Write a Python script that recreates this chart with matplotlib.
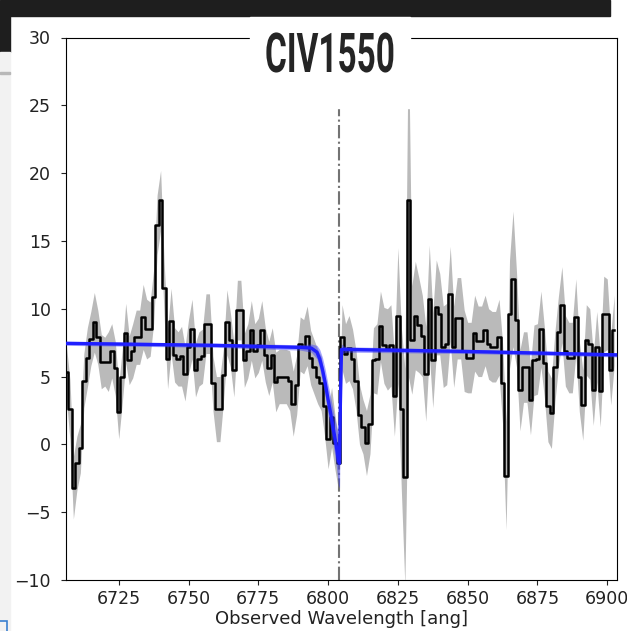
import matplotlib
matplotlib.use("Agg")
import matplotlib.pyplot as plt
from matplotlib.patches import Rectangle
from matplotlib.patheffects import AbstractPathEffect
from matplotlib.transforms import Affine2D

# spectrum: MUSE-like sampling, 1.25 ang per pixel
wave_start = 6706.25
wave_step = 1.25

flux = [
    5.3, 2.6, -3.2, -1.4, -0.3, 4.7, 6.4, 7.8, 9.0, 7.9,
    6.1, 6.1, 6.1, 6.9, 5.6, 2.4, 5.0, 8.2, 6.2, 6.9,
    7.9, 7.9, 9.4, 8.5, 8.5, 10.9, 16.2, 18.0, 11.5, 6.3,
    9.1, 6.6, 6.3, 6.5, 5.2, 7.2, 8.5, 5.5, 6.3, 6.5,
    8.9, 8.9, 4.5, 2.6, 2.6, 5.1, 9.0, 7.7, 5.5, 9.9,
    9.9, 6.2, 6.9, 8.4, 6.9, 7.3, 8.4, 6.6, 5.6, 6.6,
    4.6, 5.0, 5.0, 5.0, 4.7, 3.0, 4.4, 7.4, 7.2, 8.0,
    6.4, 5.7, 5.0, 4.5, 2.8, 0.4, 2.0, 0.1, -1.4, 7.9,
    6.7, 7.1, 6.3, 4.7, 2.2, 1.3, 0.1, 1.5, 6.2, 6.3,
    8.7, 7.3, 7.0, 7.3, 3.6, 9.5, 2.6, -2.4, 18.0, 7.7,
    9.5, 8.8, 8.0, 5.2, 10.7, 6.2, 10.1, 9.6, 7.2, 7.4,
    11.1, 7.2, 9.3, 9.3, 6.9, 6.4, 6.4, 8.2, 7.6, 7.6,
    8.4, 7.4, 7.2, 7.2, 7.9, 4.5, -2.3, 9.6, 12.2, 9.2,
    4.0, 5.7, 5.7, 3.3, 6.2, 6.3, 8.5, 6.0, 2.8, 2.3,
    5.7, 8.3, 10.3, 6.9, 6.4, 6.4, 9.4, 5.0, 2.9, 7.7,
    7.4, 4.0, 7.2, 3.9, 9.6, 9.6, 5.5, 8.4,
]

err = [
    2.0, 2.2, 2.3, 2.0, 1.8, 2.0, 2.2, 2.0, 2.2, 2.0,
    2.0, 1.8, 2.2, 2.0, 2.0, 2.0, 2.0, 2.2, 1.8, 2.0,
    2.0, 2.0, 2.4, 2.2, 2.0, 2.0, 2.2, 2.2, 2.0, 2.2,
    2.4, 2.0, 2.0, 2.2, 2.0, 2.0, 2.2, 2.0, 2.0, 2.0,
    2.2, 2.2, 2.0, 2.4, 2.4, 2.0, 2.4, 2.0, 2.0, 2.2,
    2.2, 2.0, 2.0, 2.2, 2.0, 2.0, 2.2, 2.0, 2.0, 2.0,
    2.2, 2.0, 2.0, 2.0, 2.2, 2.4, 2.2, 2.0, 2.0, 2.2,
    2.0, 2.0, 2.0, 2.0, 2.2, 2.2, 2.2, 2.0, 2.0, 2.4,
    2.2, 2.4, 2.2, 2.2, 2.2, 2.0, 2.4, 2.2, 2.4, 2.6,
    2.6, 2.8, 3.0, 3.0, 3.0, 5.0, 6.0, 8.0, 13.0, 4.0,
    4.0, 3.5, 3.0, 3.5, 4.0, 3.5, 3.5, 3.0, 3.0, 3.0,
    3.5, 3.0, 3.0, 3.0, 3.0, 2.6, 2.6, 2.8, 2.6, 2.6,
    2.6, 2.6, 2.6, 2.6, 2.8, 3.0, 4.0, 4.0, 5.0, 3.5,
    3.0, 2.6, 2.6, 2.6, 2.6, 2.6, 2.8, 2.6, 2.6, 2.6,
    2.6, 2.6, 2.8, 2.6, 2.6, 2.6, 2.8, 2.6, 2.6, 2.6,
    2.6, 2.6, 2.6, 2.6, 2.8, 2.6, 2.6, 2.6,
]

# best-fit absorption model and its spread
model_wave = [6706, 6760, 6790, 6794, 6796, 6797, 6798, 6799, 6800, 6801,
              6802, 6803, 6803.7, 6804.1, 6804.4, 6804.8, 6806, 6850, 6903.5]
model_flux = [7.45, 7.3, 7.15, 7.1, 6.8, 6.3, 5.5, 4.5, 3.3, 2.2,
              1.0, -0.2, -1.2, -1.4, 3.0, 7.0, 7.0, 6.85, 6.6]
model_spread = [0.15, 0.15, 0.2, 0.3, 0.5, 0.7, 0.9, 1.0, 1.1, 1.2,
                1.3, 1.5, 1.8, 1.8, 1.0, 0.4, 0.2, 0.15, 0.15]

line_center = 6804.0
title = "CIV1550"
xticks = [6725, 6750, 6775, 6800, 6825, 6850, 6875, 6900]
yticks = [-10, -5, 0, 5, 10, 15, 20, 25, 30]

W, H = 627, 631


class Squeeze(AbstractPathEffect):
    """narrow text horizontally around x = cx (display pixels)"""

    def __init__(self, sx, cx):
        super().__init__()
        self.sx = sx
        self.cx = cx

    def draw_path(self, renderer, gc, tpath, affine, rgbFace=None):
        squeeze = Affine2D().translate(-self.cx, 0).scale(self.sx, 1).translate(self.cx, 0)
        renderer.draw_path(gc, tpath, affine + squeeze, rgbFace)


def add_rect(x0, y0, x1, y1, **kw):
    # pixel box with top-left origin
    fig.add_artist(Rectangle((x0 / W, 1 - y1 / H), (x1 - x0) / W, (y1 - y0) / H,
                             transform=fig.transFigure, **kw))


wave = [wave_start + wave_step * i for i in range(len(flux))]
lo = [f - e for f, e in zip(flux, err)]
hi = [f + e for f, e in zip(flux, err)]
m_lo = [f - s for f, s in zip(model_flux, model_spread)]
m_hi = [f + s for f, s in zip(model_flux, model_spread)]

fig = plt.figure(figsize=(W / 100, H / 100), dpi=100)
ax = fig.add_axes([65.7 / W, 1 - 580 / H, (617 - 65.7) / W, (580 - 37.5) / H])

ax.fill_between(wave, lo, hi, color='0.73', lw=0, zorder=1)
ax.plot(wave, flux, drawstyle='steps-mid', color='black', lw=1.8, zorder=3)
ax.fill_between(model_wave, m_lo, m_hi, color='#3a3aff', alpha=0.45, lw=0, zorder=4)
ax.plot(model_wave, model_flux, color='#1f1fff', lw=2.4, zorder=5)
ax.axvline(line_center, color='0.45', ls='-.', lw=1.5, zorder=2)

ax.set_xlim(6706, 6903.5)
ax.set_ylim(-10, 30)
ax.set_xticks(xticks)
ax.set_yticks(yticks)
ax.tick_params(labelsize=12.5, colors='#222222')
ax.tick_params(axis='y', pad=7)
ax.set_xlabel('Observed Wavelength [ang]', fontsize=13, color='#222222', labelpad=2)

# screenshot surroundings
add_rect(10, 0, 610, 16, color='#1e1e1e', zorder=10)
add_rect(0, 0, 10, 52, color='#1e1e1e', zorder=10)
add_rect(0, 52, 10, 631, color='#f2f2f2', zorder=10)
add_rect(0, 72, 10, 73.5, color='#b8b8b8', zorder=11)
add_rect(-2, 621, 7, 640, facecolor='none', edgecolor='#3a7fd0', lw=1.2, zorder=11)

# slide title in a white box over the top spine, condensed like a display face
add_rect(250, 16.5, 410, 108, color='white', zorder=10)
title_cx = 330
t = fig.text(title_cx / W, 1 - 72 / H, title, ha='center', va='baseline',
             family=['Roboto', 'DejaVu Sans'], fontweight='bold', fontsize=39.5,
             color='#252525', zorder=12)
width = t.get_window_extent(fig.canvas.get_renderer()).width
t.set_path_effects([Squeeze(130 / width, title_cx)])

fig.savefig('out.png', dpi=100)
